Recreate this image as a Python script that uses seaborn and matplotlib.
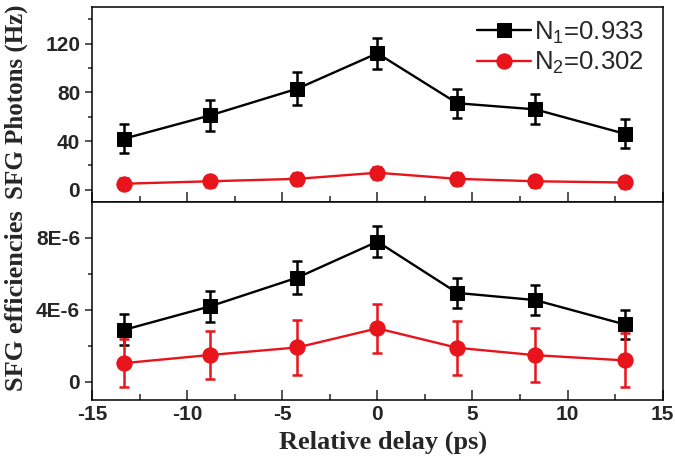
import pandas as pd
import seaborn as sns
import matplotlib.pyplot as plt
from matplotlib.ticker import MultipleLocator, FixedLocator

# Data
delay = [-13.3, -8.8, -4.2, 0.0, 4.2, 8.3, 13.0]

photons_n1 = [42, 61, 83, 112, 71, 66, 46]
photons_n1_err = [12, 12.4, 13.5, 12.5, 12, 12.4, 12]
photons_n2 = [5, 7, 9, 14, 9, 7, 6]
photons_n2_err = [4.5, 4.5, 5, 5, 5, 4.5, 4.5]

eff_n1 = [2.9e-6, 4.2e-6, 5.8e-6, 7.8e-6, 4.95e-6, 4.55e-6, 3.2e-6]
eff_n1_err = [0.85e-6, 0.85e-6, 0.9e-6, 0.87e-6, 0.82e-6, 0.85e-6, 0.8e-6]
eff_n2 = [1.05e-6, 1.5e-6, 1.92e-6, 2.98e-6, 1.9e-6, 1.49e-6, 1.2e-6]
eff_n2_err = [1.35e-6, 1.36e-6, 1.52e-6, 1.35e-6, 1.5e-6, 1.5e-6, 1.5e-6]

labels = [r"N$_\mathregular{1}$=0.933", r"N$_\mathregular{2}$=0.302"]
colors = ["black", "#e8141b"]
markers = ["s", "o"]

sns.set_theme(style="ticks")
plt.rcParams["font.family"] = ["Liberation Sans", "DejaVu Sans"]
plt.rcParams["mathtext.fontset"] = "custom"
plt.rcParams["mathtext.rm"] = "Liberation Sans"
plt.rcParams["axes.linewidth"] = 1.1
plt.rcParams["axes.edgecolor"] = "black"

df_top = pd.DataFrame({
    "delay": delay * 2,
    "value": photons_n1 + photons_n2,
    "series": [labels[0]] * 7 + [labels[1]] * 7,
})
df_bot = pd.DataFrame({
    "delay": delay * 2,
    "value": eff_n1 + eff_n2,
    "series": [labels[0]] * 7 + [labels[1]] * 7,
})

fig = plt.figure(figsize=(6.75, 4.65), dpi=100)
ax1 = fig.add_axes([0.1363, 0.5656, 0.8455, 0.4194])
ax2 = fig.add_axes([0.1363, 0.1398, 0.8455, 0.4258], sharex=ax1)

pal = dict(zip(labels, colors))
mk = dict(zip(labels, markers))
tick_fs = 15

for ax, df, errs in [(ax1, df_top, [photons_n1_err, photons_n2_err]),
                     (ax2, df_bot, [eff_n1_err, eff_n2_err])]:
    # error bars first, so markers sit on top
    for lab, col, err in zip(labels, colors, errs):
        sub = df[df["series"] == lab]
        ax.errorbar(sub["delay"], sub["value"], yerr=err, fmt="none",
                    ecolor=col, elinewidth=1.8, capsize=3.5, capthick=1.8, zorder=2)
    sns.lineplot(data=df, x="delay", y="value", hue="series", style="series",
                 palette=pal, markers=mk, dashes=False, linewidth=1.7,
                 markersize=10, ax=ax, zorder=3)
    # marker edges matching face colours (seaborn lines only)
    for line in ax.lines:
        if line.get_marker() in ("s", "o"):
            line.set_markeredgecolor(line.get_color())
        if line.get_marker() == "o":
            line.set_markersize(11)
    ax.set_xlim(-15, 15)
    ax.xaxis.set_major_locator(MultipleLocator(5))
    ax.xaxis.set_minor_locator(MultipleLocator(2.5))
    ax.tick_params(axis="x", which="major", direction="in", length=7, width=1.1)
    ax.tick_params(axis="x", which="minor", direction="in", length=4, width=1.1)
    ax.tick_params(axis="y", which="major", direction="out", length=5, width=1.1)
    ax.tick_params(axis="y", which="minor", direction="out", length=3, width=1.1)
    ax.grid(False)

ax1.set_ylim(-10, 150)
ax1.yaxis.set_major_locator(FixedLocator([0, 40, 80, 120]))
ax1.yaxis.set_minor_locator(FixedLocator([20, 60, 100, 140]))
ax1.set_yticklabels(["0", "40", "80", "120"], fontweight="bold", fontsize=tick_fs)
ax1.tick_params(axis="x", labelbottom=False)

ax2.set_ylim(-1e-6, 10e-6)
ax2.yaxis.set_major_locator(FixedLocator([0, 4e-6, 8e-6]))
ax2.yaxis.set_minor_locator(FixedLocator([2e-6, 6e-6]))
ax2.set_yticklabels(["0", "4E-6", "8E-6"], fontweight="bold", fontsize=tick_fs)
ax2.set_xticks([-15, -10, -5, 0, 5, 10, 15])
ax2.set_xticklabels(["-15", "-10", "-5", "0", "5", "10", "15"],
                    fontweight="bold", fontsize=tick_fs)

serif = ["Liberation Serif", "DejaVu Serif"]
ax1.set_xlabel("")
ax1.set_ylabel("SFG Photons (Hz)", family=serif, fontweight="bold", fontsize=18)
ax2.set_ylabel("SFG efficiencies", family=serif, fontweight="bold", fontsize=19)
ax2.set_xlabel("Relative delay (ps)", family=serif, fontweight="bold", fontsize=19)
ax1.yaxis.set_label_coords(-0.112, 0.515)
ax2.yaxis.set_label_coords(-0.112, 0.5)
ax2.xaxis.set_label_coords(0.51, -0.155)

leg = ax1.legend(loc="upper right", bbox_to_anchor=(0.985, 0.99), frameon=False,
                 fontsize=18.5, handlelength=2.1, handletextpad=0.1, borderpad=0.1,
                 labelspacing=0.15, borderaxespad=0.3)
if ax2.get_legend():
    ax2.get_legend().remove()

fig.savefig("out.png", dpi=100)
